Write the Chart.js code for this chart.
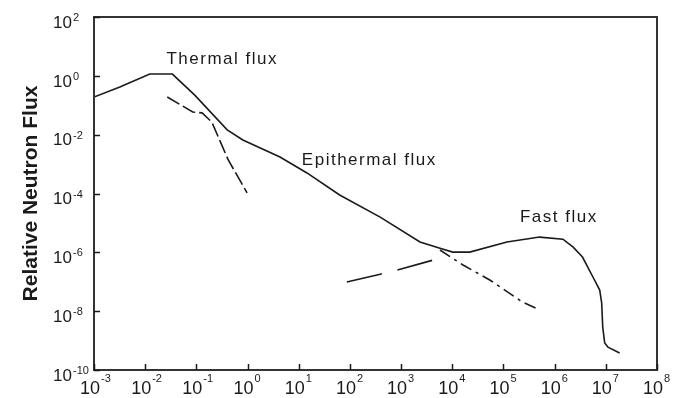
<!DOCTYPE html>
<html>
<head>
<meta charset="utf-8">
<script src="https://cdn.jsdelivr.net/npm/chart.js@4"></script>
<style>
  html, body { margin: 0; padding: 0; background: #fff; }
  #wrap { width: 695px; height: 398px; }
</style>
</head>
<body>
<div id="wrap"><canvas id="c" width="695" height="398"></canvas></div>
<script>
// ---- data (energy in eV, relative flux) ----
const totalEnergy = [1e-3, 3.2e-3, 1.23e-2, 3.4e-2, 9.3e-2, 0.40, 0.81, 4.3, 14.5, 63, 390, 2340, 5750, 1.02e4, 2.19e4, 1.17e5, 5.1e5, 1.45e6, 2.3e6, 3.5e6, 5.6e6, 7.6e6, 8.3e6, 8.7e6, 9.5e6, 1.1e7, 1.86e7];
const totalFlux   = [0.19, 0.42, 1.15, 1.15, 0.22, 1.45e-2, 6.6e-3, 1.74e-3, 5.0e-4, 8.9e-5, 1.58e-5, 2.24e-6, 1.38e-6, 1.02e-6, 1.02e-6, 2.24e-6, 3.3e-6, 2.8e-6, 1.5e-6, 6.9e-7, 1.45e-7, 5.2e-8, 1.9e-8, 2.9e-9, 8.3e-10, 6.0e-10, 3.8e-10];

const thermalEnergy = [2.7e-2, 8.5e-2, 0.129, 0.20, 0.42, 0.98];
const thermalFlux   = [0.19, 5.9e-2, 5.5e-2, 2.7e-2, 1.38e-3, 1.05e-4];

const epiExtEnergy = [5750, 1.62e4, 5.4e4, 2.4e5, 5.1e5];
const epiExtFlux   = [1.2e-6, 3.7e-7, 1.15e-7, 2.0e-8, 1.1e-8];

const fastExtEnergy = [87, 390, 830, 5000];
const fastExtFlux   = [9.8e-8, 1.8e-7, 2.5e-7, 5.9e-7];

const xTickValues = [1e-3, 1e-2, 1e-1, 1e0, 1e1, 1e2, 1e3, 1e4, 1e5, 1e6, 1e7, 1e8];
const xTickExp    = ['-3', '-2', '-1', '0', '1', '2', '3', '4', '5', '6', '7', '8'];
const yTickValues = [1e2, 1e0, 1e-2, 1e-4, 1e-6, 1e-8, 1e-10];
const yTickExp    = ['2', '0', '-2', '-4', '-6', '-8', '-10'];

const curveLabels = ['Thermal flux', 'Epithermal flux', 'Fast flux'];
const curveLabelE = [0.026, 11.5, 2.1e5];
const curveLabelF = [3.7, 1.38e-3, 1.58e-5];

const yTitle = 'Relative Neutron Flux';

// ---- helpers ----
const pts = (xs, ys) => xs.map((x, i) => ({ x, y: ys[i] }));
const INK = '#1a1a1a';
const FONT = "'Liberation Sans', Arial, sans-serif";

const decorPlugin = {
  id: 'decor',
  afterDraw(chart) {
    const { ctx, chartArea: a, scales: { x, y } } = chart;
    ctx.save();
    // frame
    ctx.strokeStyle = '#333';
    ctx.lineWidth = 2;
    ctx.strokeRect(a.left, a.top, a.right - a.left, a.bottom - a.top);
    // inward ticks
    ctx.lineWidth = 1.5;
    ctx.strokeStyle = INK;
    ctx.beginPath();
    xTickValues.forEach(v => {
      const px = Math.round(x.getPixelForValue(v)) + 0.5;
      ctx.moveTo(px, a.bottom);
      ctx.lineTo(px, a.bottom - 6);
    });
    yTickValues.forEach(v => {
      const py = Math.round(y.getPixelForValue(v)) + 0.5;
      ctx.moveTo(a.left, py);
      ctx.lineTo(a.left + 6, py);
    });
    ctx.stroke();

    // exponents of tick labels
    ctx.fillStyle = INK;
    ctx.font = '18px ' + FONT;
    const w10x = ctx.measureText('10').width;
    ctx.font = '11px ' + FONT;
    ctx.textAlign = 'left';
    ctx.textBaseline = 'alphabetic';
    xTickValues.forEach((v, i) => {
      const px = x.getPixelForValue(v) - 4;
      ctx.fillText(xTickExp[i], px + w10x / 2 + 1, a.bottom + 12);
    });
    ctx.textBaseline = 'middle';
    yTickValues.forEach((v, i) => {
      const py = y.getPixelForValue(v);
      ctx.fillText(yTickExp[i], a.left - 21, py + 1);
    });

    // curve labels
    ctx.font = '17px ' + FONT;
    ctx.letterSpacing = '1.5px';
    ctx.textBaseline = 'middle';
    curveLabels.forEach((t, i) => {
      ctx.fillText(t, x.getPixelForValue(curveLabelE[i]), y.getPixelForValue(curveLabelF[i]));
    });
    ctx.restore();
  }
};

const lineStyle = { borderColor: INK, borderWidth: 1.6, pointRadius: 0, tension: 0, fill: false };

new Chart(document.getElementById('c'), {
  type: 'line',
  data: {
    datasets: [
      { ...lineStyle, data: pts(totalEnergy, totalFlux) },
      { ...lineStyle, data: pts(thermalEnergy, thermalFlux), borderDash: [14, 4] },
      { ...lineStyle, data: pts(epiExtEnergy, epiExtFlux), borderDash: [12, 5, 3, 5] },
      { ...lineStyle, data: pts(fastExtEnergy, fastExtFlux), borderDash: [36, 16] }
    ]
  },
  options: {
    responsive: false,
    animation: false,
    events: [],
    layout: { autoPadding: false, padding: { left: 0, top: 17, right: 38, bottom: 0 } },
    plugins: { legend: { display: false }, tooltip: { enabled: false } },
    scales: {
      x: {
        type: 'logarithmic',
        min: 1e-3, max: 1e8,
        afterBuildTicks: s => { s.ticks = xTickValues.map(v => ({ value: v })); },
        afterFit: s => { s.height = 28; },
        grid: { display: false, drawTicks: false },
        border: { display: false },
        ticks: {
          autoSkip: false, maxRotation: 0, padding: 8, labelOffset: -4,
          color: INK, font: { family: FONT, size: 18 },
          callback: () => '10'
        }
      },
      y: {
        type: 'logarithmic',
        min: 1e-10, max: 1e2,
        afterBuildTicks: s => { s.ticks = yTickValues.map(v => ({ value: v })); },
        afterFit: s => { s.width = 94; s.paddingTop = 0; s.paddingBottom = 0; },
        grid: { display: false, drawTicks: false },
        border: { display: false },
        title: {
          display: true, text: yTitle, color: INK,
          font: { family: FONT, size: 21, weight: 'bold' },
          padding: { top: 19, bottom: 0 }
        },
        ticks: {
          autoSkip: false, padding: 22, labelOffset: 6,
          color: INK, font: { family: FONT, size: 17 },
          callback: () => '10'
        }
      }
    }
  },
  plugins: [decorPlugin]
});
</script>
</body>
</html>
